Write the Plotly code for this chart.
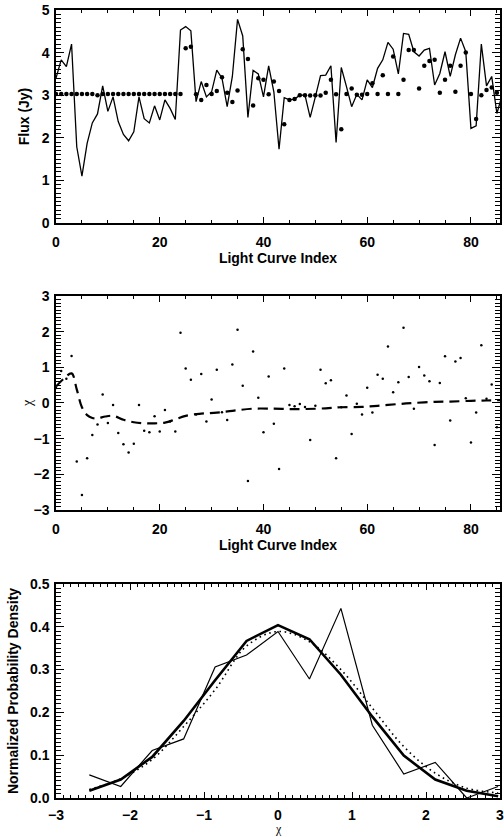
import plotly.graph_objects as go

# ---- Panel 1: light curve ----
flux_idx = list(range(87))
flux = [3.40, 3.83, 3.67, 4.20, 1.79, 1.10, 1.87, 2.35, 2.56, 3.22,
        2.62, 2.96, 2.38, 2.08, 1.93, 2.14, 2.96, 2.45, 2.35, 2.75,
        2.42, 2.89, 2.69, 2.43, 4.53, 4.61, 4.51, 2.85, 3.32, 2.96,
        3.08, 3.59, 3.40, 2.73, 3.44, 4.78, 4.39, 2.48, 3.58, 3.50,
        2.96, 3.69, 3.08, 1.73, 2.94, 2.89, 2.91, 3.00, 3.00, 2.48,
        2.96, 3.46, 3.47, 3.69, 1.89, 3.65, 3.20, 2.73, 3.02, 2.89,
        3.36, 3.18, 3.63, 3.83, 4.24, 4.08, 3.50, 4.45, 4.43, 4.02,
        3.92, 4.06, 4.10, 3.24, 3.51, 4.02, 3.44, 3.95, 4.34, 4.02,
        2.22, 2.28, 4.20, 3.22, 3.44, 2.57, 3.00]

model_idx = list(range(86))
model = [3.03, 3.03, 3.03, 3.03, 3.03, 3.03, 3.03, 3.03, 3.00, 3.03,
         3.03, 3.03, 3.03, 3.03, 3.03, 3.03, 3.03, 3.03, 3.03, 3.03,
         3.03, 3.03, 3.03, 3.03, 3.03, 4.10, 4.14, 3.02, 2.89, 3.24,
         3.03, 3.10, 3.42, 3.06, 2.84, 3.11, 4.08, 3.85, 2.76, 3.40,
         3.36, 3.02, 3.32, 3.10, 2.32, 2.89, 2.91, 3.00, 3.00, 2.99,
         3.00, 2.99, 3.06, 3.36, 3.02, 2.20, 3.03, 3.16, 3.01, 3.01,
         3.03, 3.28, 3.03, 3.47, 3.03, 3.91, 3.03, 3.36, 4.06, 4.06,
         3.16, 3.69, 3.80, 3.83, 3.06, 3.36, 3.69, 3.08, 3.69, 4.00,
         3.03, 2.44, 3.00, 3.12, 3.18, 3.06]

# ---- Panel 2: chi residuals ----
chi_idx = list(range(86))
chi = [0.42, 0.90, 0.68, 1.32, -1.64, -2.58, -1.55, -0.90, -0.60, 0.24,
       -0.56, -0.06, -0.84, -1.16, -1.39, -1.14, -0.06, -0.78, -0.82, -0.37,
       -0.80, -0.20, -0.52, -0.80, 1.97, 0.97, 0.65, -0.32, 0.81, -0.52,
       0.10, 0.93, -0.26, -0.48, 1.08, 2.05, 0.48, -2.19, 1.44, 0.15,
       -0.82, 0.74, -0.58, -1.85, 0.97, -0.06, -0.09, -0.03, -0.11, -1.04,
       -0.08, 0.93, 0.55, 0.64, -1.55, -0.12, 0.21, -0.87, -0.02, -0.32,
       0.43, -0.27, 0.79, 0.68, 1.58, 0.30, 0.58, 2.11, 0.73, -0.16,
       1.01, 0.77, 0.61, -1.18, 0.56, 1.31, -0.49, 1.16, 1.26, 0.13,
       -1.11, -0.27, 1.62, 0.12, 0.52, -0.68]

trend_x = [0, 1.5, 3, 4, 5, 6, 7, 8, 9.5, 11, 13, 15, 17, 19, 21, 23, 25,
           28, 31, 34, 38, 42, 45, 48, 52, 55, 59, 62, 66, 69, 73, 76, 80, 83, 86]
trend_y = [0.46, 0.68, 0.83, 0.38, -0.12, -0.34, -0.42, -0.43, -0.38, -0.36,
           -0.47, -0.54, -0.57, -0.57, -0.55, -0.46, -0.36, -0.30, -0.27, -0.22,
           -0.16, -0.16, -0.17, -0.17, -0.15, -0.12, -0.11, -0.08, -0.03, 0.00,
           0.03, 0.04, 0.06, 0.07, 0.08]

# ---- Panel 3: chi distribution ----
bins = [-2.55, -2.125, -1.70, -1.275, -0.85, -0.425, 0.0, 0.425, 0.85,
        1.275, 1.70, 2.125, 2.55, 2.975]
hist_thin = [0.054, 0.027, 0.111, 0.138, 0.306, 0.334, 0.389, 0.278, 0.443,
             0.170, 0.056, 0.083, 0.0, 0.027]
hist_thick = [0.017, 0.043, 0.096, 0.180, 0.275, 0.367, 0.404, 0.371, 0.288,
              0.190, 0.099, 0.043, 0.017, 0.004]
gauss = [0.020, 0.045, 0.090, 0.167, 0.253, 0.355, 0.389, 0.365, 0.300,
         0.210, 0.120, 0.058, 0.023, 0.012]

FONT = "Liberation Sans, Arial, Helvetica, sans-serif"
SERIF = "Liberation Serif, Times New Roman, serif"
tickfont = dict(family=FONT, size=14, color="black", weight="bold")
titlefont = dict(family=FONT, size=14, color="black", weight="bold")

fig = go.Figure()
fig.add_trace(go.Scatter(x=flux_idx, y=flux, mode="lines",
                         line=dict(color="black", width=1.3), xaxis="x", yaxis="y"))
fig.add_trace(go.Scatter(x=model_idx, y=model, mode="markers",
                         marker=dict(color="black", size=4.5), xaxis="x", yaxis="y"))
fig.add_trace(go.Scatter(x=chi_idx, y=chi, mode="markers",
                         marker=dict(color="black", size=2.5), xaxis="x2", yaxis="y2"))
fig.add_trace(go.Scatter(x=trend_x, y=trend_y, mode="lines",
                         line=dict(color="black", width=2.2, dash="10px,6px", shape="spline"),
                         xaxis="x2", yaxis="y2"))
fig.add_trace(go.Scatter(x=bins, y=hist_thin, mode="lines",
                         line=dict(color="black", width=1.2), xaxis="x3", yaxis="y3"))
fig.add_trace(go.Scatter(x=bins, y=gauss, mode="lines",
                         line=dict(color="black", width=1.6, dash="1.6px,3.6px", shape="spline"),
                         xaxis="x3", yaxis="y3"))
fig.add_trace(go.Scatter(x=bins, y=hist_thick, mode="lines",
                         line=dict(color="black", width=2.6), xaxis="x3", yaxis="y3"))


def axis(**kw):
    base = dict(showline=True, linecolor="black", linewidth=1.5, mirror="allticks",
                ticks="inside", tickcolor="black", tickwidth=1.2, showgrid=False,
                zeroline=False, tickfont=tickfont, automargin=False,
                ticklabeloverflow="allow")
    base.update(kw)
    return base


def minor(d, ln=5):
    return dict(dtick=d, ticklen=ln, ticks="inside", tickcolor="black",
                tickwidth=1.1, showgrid=False)


fig.update_layout(
    width=504, height=837,
    margin=dict(l=56, r=4, t=10, b=39),
    paper_bgcolor="white", plot_bgcolor="white",
    showlegend=False,
    xaxis=axis(domain=[0, 1], anchor="y", range=[0, 85.6], tick0=0, dtick=20,
               ticklen=6, minor=minor(5, 3.5), ticklabelstandoff=5,
               title=dict(text="Light Curve Index", font=titlefont, standoff=2)),
    yaxis=axis(domain=[0.7297, 1], anchor="x", range=[0, 5], tick0=0, dtick=1,
               ticklen=8, minor=minor(0.1), ticklabelstandoff=2,
               title=dict(text="Flux (Jy)", font=titlefont, standoff=9)),
    xaxis2=axis(domain=[0, 1], anchor="y2", range=[0, 85.6], tick0=0, dtick=20,
                ticklen=6, minor=minor(5, 3.5), ticklabelstandoff=5,
                title=dict(text="Light Curve Index", font=titlefont, standoff=2)),
    yaxis2=axis(domain=[0.3655, 0.6371], anchor="x2", range=[-3, 3], tick0=0, dtick=1,
                ticklen=8, minor=minor(0.1), ticklabelstandoff=2),
    xaxis3=axis(domain=[0, 1], anchor="y3", range=[-3, 3], tick0=0, dtick=1,
                ticklen=6, minor=minor(0.1, 3.5), ticklabelstandoff=3),
    yaxis3=axis(domain=[0, 0.2716], anchor="x3", range=[0, 0.5], tick0=0, dtick=0.1,
                ticklen=8, minor=minor(0.01), tickformat=".1f", ticklabelstandoff=2,
                title=dict(text="Normalized Probability Density", font=titlefont, standoff=8)),
    annotations=[
        dict(text="χ", font=dict(family=SERIF, size=14, color="black"),
             xref="paper", yref="paper", x=0, y=0.5012, xshift=-29, textangle=-90,
             showarrow=False, xanchor="center", yanchor="middle", borderpad=0),
        dict(text="χ", font=dict(family=SERIF, size=12, color="black"),
             xref="paper", yref="paper", x=0.5, y=0, yshift=-31, showarrow=False,
             xanchor="center", yanchor="middle", borderpad=0),
    ],
)

fig.write_html("out.html")
